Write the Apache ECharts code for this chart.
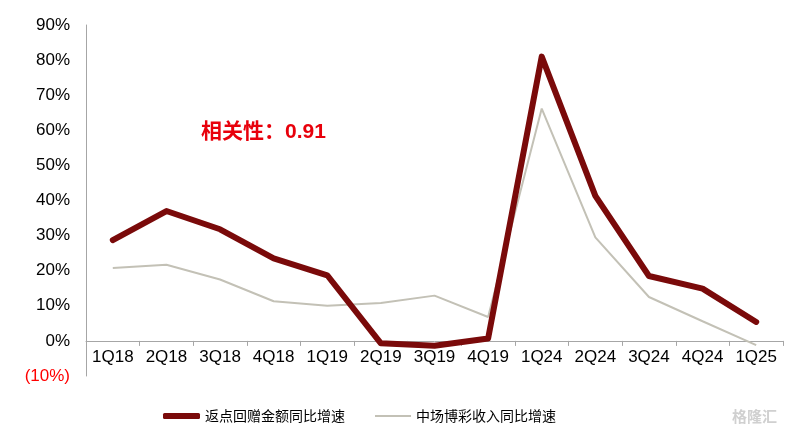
<!DOCTYPE html>
<html>
<head>
<meta charset="utf-8">
<script src="https://cdn.jsdelivr.net/npm/echarts@6/dist/echarts.min.js"></script>
<style>
html,body{margin:0;padding:0;background:#fff;}
#c{width:803px;height:441px;}
</style>
</head>
<body>
<div id="c"></div>
<script>
const categories = ['1Q18','2Q18','3Q18','4Q18','1Q19','2Q19','3Q19','4Q19','1Q24','2Q24','3Q24','4Q24','1Q25'];
const rebateGrowth = [28.7, 37.0, 31.8, 23.5, 18.7, -0.7, -1.4, 0.7, 81.0, 41.3, 18.5, 14.9, 5.4];
const massGamingGrowth = [20.8, 21.7, 17.5, 11.3, 10.0, 10.8, 12.9, 6.8, 66.2, 29.5, 12.5, 5.6, -1.2];
const seriesNames = ['返点回赠金额同比增速', '中场博彩收入同比增速'];
const annotationText = '相关性：0.91';
const watermarkText = '格隆汇';

const chart = echarts.init(document.getElementById('c'));
const FONT = '"Liberation Sans", Arial, sans-serif';
chart.setOption({
  animation: false,
  backgroundColor: '#fff',
  grid: { left: 86, right: 20, top: 25, bottom: 65 },
  xAxis: {
    type: 'category',
    data: categories,
    boundaryGap: true,
    offset: -35.1,
    axisLine: { onZero: false, lineStyle: { color: '#A6A6A6', width: 1 } },
    axisTick: { show: true, inside: false, length: 5, alignWithLabel: false, lineStyle: { color: '#A6A6A6' } },
    axisLabel: { color: '#000', fontSize: 17, fontFamily: FONT, margin: 8, interval: 0 },
    splitLine: { show: false }
  },
  yAxis: {
    type: 'value',
    min: -10, max: 90, interval: 10,
    axisLine: { show: true, lineStyle: { color: '#A6A6A6', width: 1 } },
    axisTick: { show: false },
    splitLine: { show: false },
    axisLabel: {
      fontSize: 17, fontFamily: FONT, margin: 16,
      formatter: v => v < 0 ? '{neg|(' + (-v) + '%)}' : v + '%',
      color: '#000',
      rich: { neg: { color: '#FF0000', fontSize: 17, fontFamily: FONT } }
    }
  },
  legend: [
    {
      data: [seriesNames[0]], left: 158, top: 404, itemWidth: 37, itemHeight: 6, icon: 'roundRect',
      itemGap: 4, textStyle: { fontSize: 14, color: '#000', fontFamily: '"Noto Sans CJK SC", sans-serif' }
    },
    {
      data: [seriesNames[1]], left: 370, top: 404, itemWidth: 36, itemHeight: 2, icon: 'rect',
      itemGap: 4, textStyle: { fontSize: 14, color: '#000', fontFamily: '"Noto Sans CJK SC", sans-serif' }
    }
  ],
  graphic: [
    {
      type: 'text', left: 201, top: 122,
      style: { text: annotationText, fill: '#E8000B', font: 'bold 21px "Liberation Sans", "Noto Sans CJK SC", sans-serif' }
    },
    {
      type: 'text', left: 732, top: 409,
      style: { text: watermarkText, fill: '#D0D0D0', font: 'bold 15px "Noto Sans CJK SC", sans-serif' }
    }
  ],
  series: [
    {
      name: seriesNames[0], type: 'line', data: rebateGrowth, symbol: 'none',
      lineStyle: { color: '#7A0A0A', width: 6, cap: 'round', join: 'round' },
      itemStyle: { color: '#7A0A0A' }, z: 3
    },
    {
      name: seriesNames[1], type: 'line', data: massGamingGrowth, symbol: 'none',
      lineStyle: { color: '#C3C1B6', width: 2 },
      itemStyle: { color: '#C3C1B6' }, z: 2
    }
  ]
});
</script>
</body>
</html>
